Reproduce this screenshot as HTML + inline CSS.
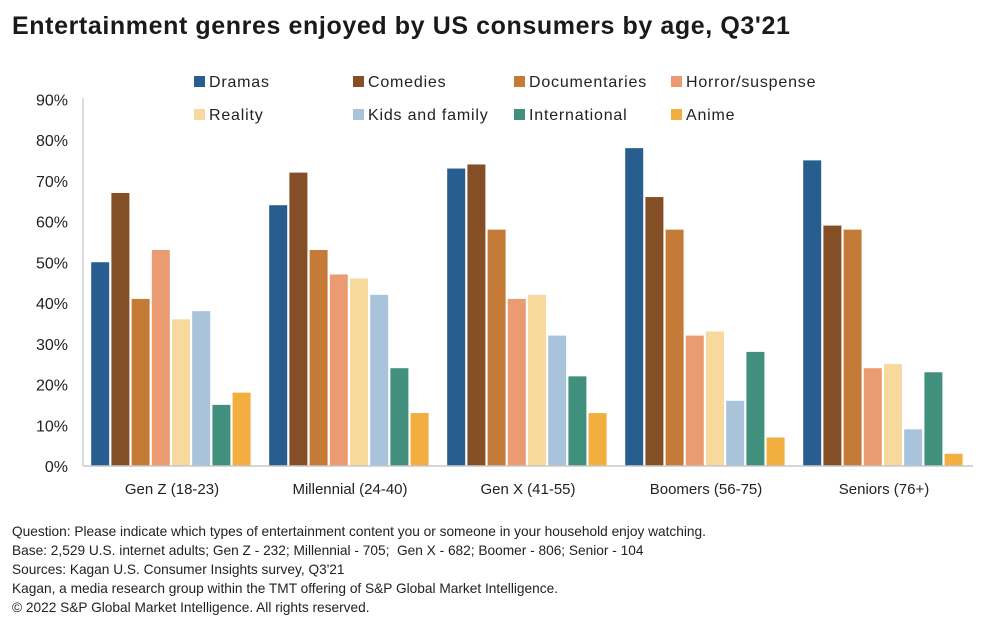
<!DOCTYPE html>
<html><head><meta charset="utf-8"><style>
body{margin:0;background:#fff;width:990px;height:632px;overflow:hidden;font-family:"Liberation Sans",sans-serif;color:#222}
#title{position:absolute;left:12px;top:12px;font-size:25px;letter-spacing:0.6px;font-weight:bold;color:#1a1a1a;white-space:nowrap}
.note{position:absolute;left:12px;font-size:13.7px;color:#222;white-space:nowrap}
svg{position:absolute;left:0;top:0}
</style></head><body>
<div id="title">Entertainment genres enjoyed by US consumers by age, Q3'21</div>
<svg id="chart" width="990" height="632"></svg>
<div class="note" style="top:524px">Question: Please indicate which types of entertainment content you or someone in your household enjoy watching.</div>
<div class="note" style="top:543px">Base: 2,529 U.S. internet adults; Gen Z - 232; Millennial - 705;&nbsp; Gen X - 682; Boomer - 806; Senior - 104</div>
<div class="note" style="top:562px">Sources: Kagan U.S. Consumer Insights survey, Q3'21</div>
<div class="note" style="top:581px">Kagan, a media research group within the TMT offering of S&amp;P Global Market Intelligence.</div>
<div class="note" style="top:600px">© 2022 S&amp;P Global Market Intelligence. All rights reserved.</div>
<script>
const categories=["Gen Z (18-23)","Millennial (24-40)","Gen X (41-55)","Boomers (56-75)","Seniors (76+)"];
const seriesNames=["Dramas","Comedies","Documentaries","Horror/suspense","Reality","Kids and family","International","Anime"];
const dramas=[50,64,73,78,75];
const comedies=[67,72,74,66,59];
const documentaries=[41,53,58,58,58];
const horror=[53,47,41,32,24];
const reality=[36,46,42,33,25];
const kids=[38,42,32,16,9];
const international=[15,24,22,28,23];
const anime=[18,13,13,7,3];
const yTicks=[0,10,20,30,40,50,60,70,80,90];
const series=[dramas,comedies,documentaries,horror,reality,kids,international,anime];
const colors=["#275d8f","#844f27","#c57b38","#eb9b72","#f7d89d","#a8c3da","#41907d","#f3ae40"];
const NS="http://www.w3.org/2000/svg";
const svg=document.getElementById('chart');
const x0=83,x1=973,y0=466,pxPer=4.075;
const gw=(x1-x0)/categories.length,step=20.2,bw=18;
const y=v=>y0-v*pxPer;
function mk(t,a,p){const e=document.createElementNS(NS,t);for(const k in a)e.setAttribute(k,a[k]);(p||svg).appendChild(e);return e;}
yTicks.forEach(t=>{
const tx=mk('text',{x:68,y:y(t)+6,'text-anchor':'end','font-size':16,fill:'#222'});


tx.textContent=t+'%';});
series.forEach((s,si)=>{s.forEach((v,ci)=>{
const bx=x0+ci*gw+(gw-8*step)/2+si*step;
const r=mk('rect',{x:bx,y:y(v),width:bw,height:v*pxPer,fill:colors[si]});

});});
const ax=mk('line',{x1:x0,y1:98,x2:x0,y2:y0,stroke:'#d0d0d0','stroke-width':1.5});


const bx=mk('line',{x1:x0,y1:y0,x2:x1,y2:y0,stroke:'#c8c8c8','stroke-width':1.5});


categories.forEach((c,i)=>{
const t=mk('text',{x:x0+i*gw+gw/2,y:494,'text-anchor':'middle','font-size':15,fill:'#222'});


t.textContent=c;});
const legX=[194,353,514,671];
seriesNames.forEach((n,i)=>{
const lx=legX[i%4],ly=i<4?82:115;
const g=mk('g',{});


mk('rect',{x:lx,y:ly-6,width:11,height:11,fill:colors[i]},g);
const t=mk('text',{x:lx+15,y:ly+5,'font-size':16,'letter-spacing':0.8,fill:'#222'},g);
t.textContent=n;});
</script>
</body></html>
